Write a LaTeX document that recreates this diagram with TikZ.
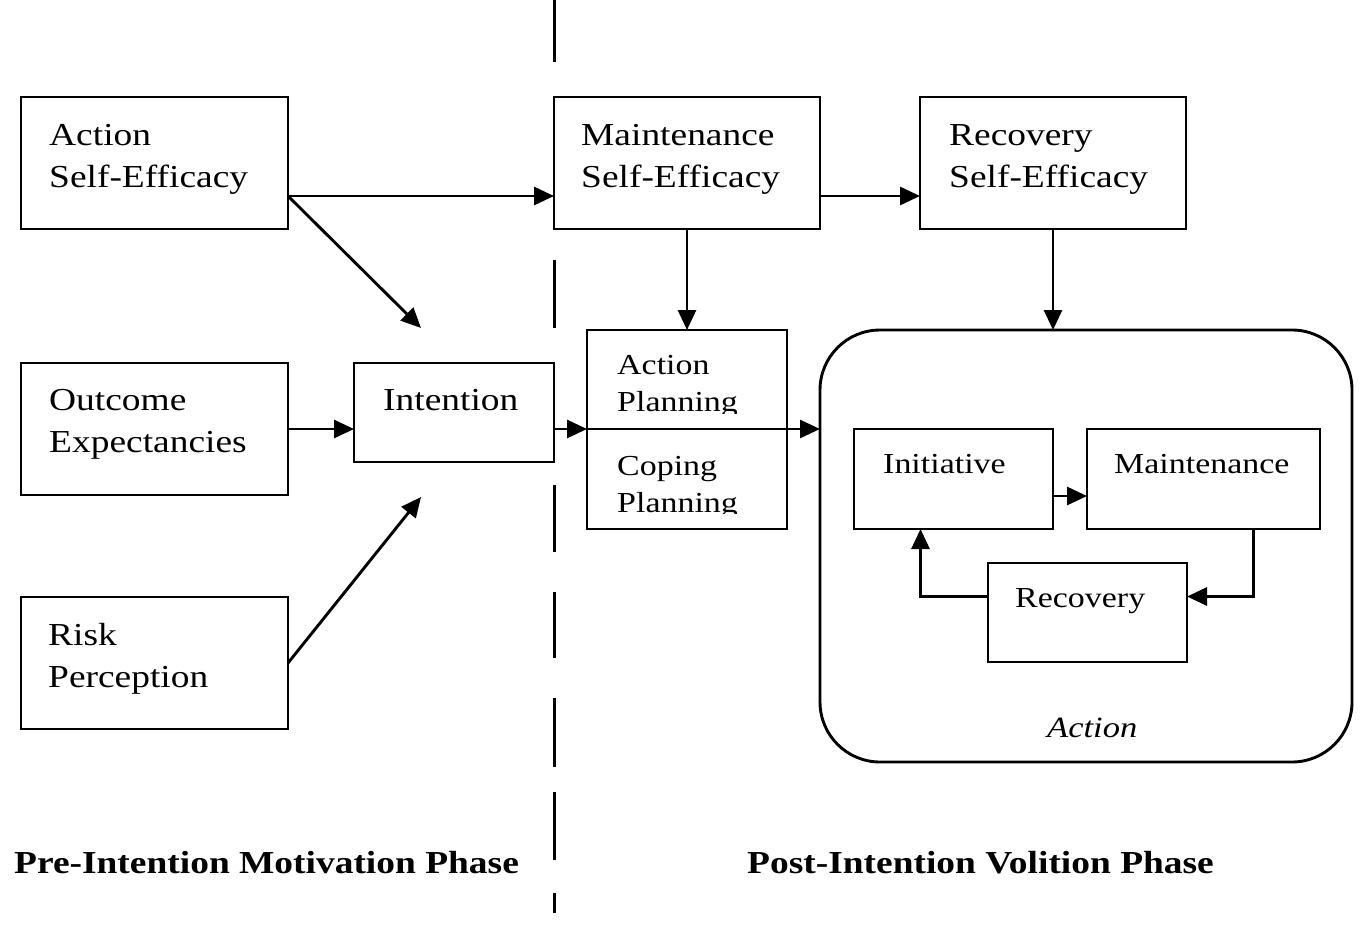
\documentclass[tikz,border=0pt]{standalone}
\usepackage{fontspec}
\setmainfont{Liberation Serif}[FakeStretch=1.17]
\usetikzlibrary{arrows.meta}
\begin{document}
\begin{tikzpicture}[x=1pt,y=-1pt,
		box/.style={draw, line width=2.9pt, anchor=north west, inner sep=0pt, outer sep=0pt},
		txt/.style={anchor=base west, align=left, inner sep=0pt, font=\fontsize{32}{42}\selectfont},
		small/.style={anchor=base west, align=left, inner sep=0pt, font=\fontsize{29}{37}\selectfont},
		phase/.style={anchor=base west, inner sep=0pt, font=\fontsize{32}{38}\selectfont\bfseries},
		arr/.style={line width=2.9pt, -{Triangle[length=20pt,width=18pt]}}]
			\useasboundingbox (0,0) rectangle (1372,926);
			\foreach \a/\b in {0/62,260/328,485/552,592/658,698/767,792/860,893/913}
				\draw[line width=3pt] (554,\a) -- (554,\b);
			\node[box, minimum width=267pt, minimum height=132pt] (ase) at (21,97) {};
			\node[box, minimum width=267pt, minimum height=132pt] (oe) at (21,363) {};
			\node[box, minimum width=267pt, minimum height=132pt] (rp) at (21,597) {};
			\node[box, minimum width=200pt, minimum height=99pt] (int) at (354,363) {};
			\node[box, minimum width=266pt, minimum height=132pt] (mse) at (554,97) {};
			\node[box, minimum width=266pt, minimum height=132pt] (rse) at (920,97) {};
			\node[box, minimum width=200pt, minimum height=99pt] (ap) at (587,330) {};
			\node[box, minimum width=200pt, minimum height=100pt] (cp) at (587,429) {};
			\node[box, minimum width=532pt, minimum height=432pt, rounded corners=60pt] (act) at (820,330) {};
			\node[box, minimum width=199pt, minimum height=100pt] (ini) at (854,429) {};
			\node[box, minimum width=233pt, minimum height=100pt] (mnt) at (1087,429) {};
			\node[box, minimum width=199pt, minimum height=99pt] (rec) at (988,563) {};
			\node[txt] (ase-t) at (49,187) {Action\\Self-Efficacy};
			\node[txt] (oe-t) at (49,452) {Outcome\\Expectancies};
			\node[txt] (rp-t) at (48,687) {Risk\\Perception};
			\node[txt] (int-t) at (383,410) {Intention};
			\node[txt] (mse-t) at (581,187) {Maintenance\\Self-Efficacy};
			\node[txt] (rse-t) at (949,187) {Recovery\\Self-Efficacy};
			\begin{scope}
				\clip (ap.north west) rectangle ([yshift=16pt]ap.south east);
				\node[small] (ap-t) at (617,411) {Action\\Planning};
			\end{scope}
			\begin{scope}
				\clip (cp.north west) rectangle ([yshift=16pt]cp.south east);
				\node[small] (cp-t) at (617,512) {Coping\\Planning};
			\end{scope}
			\node[small] (ini-t) at (883,473) {Initiative};
			\node[small] (mnt-t) at (1114,473) {Maintenance};
			\node[small] (rec-t) at (1015,607) {Recovery};
			\node[small, font=\fontsize{29.5}{37}\selectfont\itshape] (act-t) at (1047,737) {Action};
			\node[phase] (pre) at (14,873) {Pre-Intention Motivation Phase};
			\node[phase] (post) at (747,873) {Post-Intention Volition Phase};
			\coordinate (int-a) at (421,328);
			\coordinate (int-b) at (421,497);
			\draw[arr] ([yshift=-33pt]ase.east) -- ([yshift=-33pt]mse.west);
			\draw[arr] ([yshift=-33pt]ase.east) -- (int-a);
			\draw[arr] (rp.east) -- (int-b);
			\draw[arr] (oe.east) -- (oe.east -| int.west);
			\draw[arr] (int.east |- oe.east) -- (ap.south west);
			\draw[arr] (ap.south west) -- (ap.south west -| act.west);
			\draw[arr] ([yshift=-33pt]mse.east) -- ([yshift=-33pt]rse.west);
			\draw[arr] (mse.south) -- (ap.north);
			\draw[arr] (rse.south) -- (rse.south |- act.north);
			\draw[arr] ([yshift=-17pt]ini.east) -- ([yshift=-17pt]mnt.west);
			\draw[arr] ([xshift=50pt]mnt.south) |- ([yshift=16pt]rec.east);
			\draw[arr] ([yshift=16pt]rec.west) -| ([xshift=-33pt]ini.south);
\end{tikzpicture}
\end{document}
